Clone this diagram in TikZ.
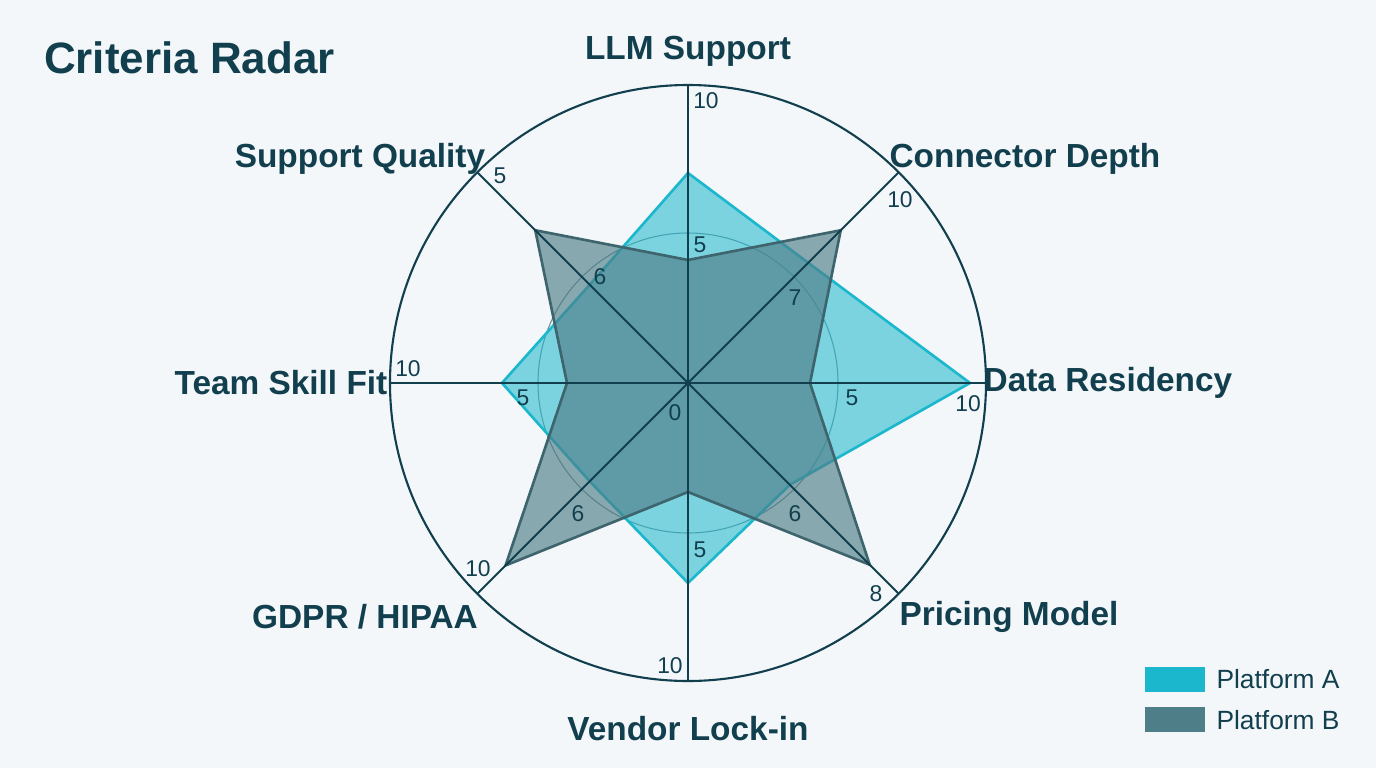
\documentclass[tikz,border=0pt]{standalone}
\usepackage{fontspec}
\setmainfont{Liberation Sans}
\usetikzlibrary{positioning}
\definecolor{bgcol}{HTML}{F3F7FA}
\definecolor{ink}{HTML}{123F4E}
\definecolor{platA}{HTML}{1BB7CC}
\definecolor{platB}{HTML}{4E7E88}
\tikzset{
  axislabel/.style={font=\bfseries\fontsize{19}{22}\selectfont, text=ink},
  tick/.style={font=\fontsize{13}{15}\selectfont, text=ink},
  grid/.style={ink, line width=1.2pt},
}
\begin{document}
\begin{tikzpicture}[x=0.02cm,y=0.02cm]
  \fill[bgcol] (-688,-385) rectangle (688,383);
  \useasboundingbox (-688,-385) rectangle (688,383);
  % title
  \node[anchor=west, font=\bfseries\fontsize{25}{30}\selectfont, text=ink] (title) at (-650,325) {Criteria Radar};
  % rings
  \coordinate (o) at (0,0);
  \draw[grid] (o) circle (298);
  \draw[ink!60, line width=0.6pt] (o) circle (150);
  % platform A
  \fill[platA, fill opacity=0.55, draw=platA, draw opacity=1, line width=1.5pt]
    (90:210) -- (45:170) -- (0:282) -- (-45:144) -- (-90:200) -- (-135:139) -- (180:186) -- (135:139) -- cycle;
  % platform B
  \fill[platB, fill opacity=0.65, draw=platB!80!black, draw opacity=1, line width=1.5pt]
    (90:123) -- (45:216) -- (0:122) -- (-45:257) -- (-90:109) -- (-135:258) -- (180:121) -- (135:216) -- cycle;
  % spokes
  \foreach \a in {0,45,...,315}
    \draw[grid] (o) -- (\a:298);
  % axis labels
  \node[axislabel] (llm) at (0,332) {LLM Support};
  \node[axislabel] (conn) at (337,224) {Connector Depth};
  \node[axislabel] (resid) at (420,0) {Data Residency};
  \node[axislabel] (price) at (321,-234) {Pricing Model};
  \node[axislabel] (lock) at (0,-346) {Vendor Lock-in};
  \node[axislabel] (gdpr) at (-323,-234) {GDPR / HIPAA};
  \node[axislabel] (team) at (-407,0) {Team Skill Fit};
  \node[axislabel] (supp) at (-328,224) {Support Quality};
  % ticks
  \node[tick] (t1) at (18,282) {10};
  \node[tick] (t2) at (12,138) {5};
  \node[tick] (t3) at (212,183) {10};
  \node[tick] (t4) at (107,85) {7};
  \node[tick] (t5) at (164,-15) {5};
  \node[tick] (t6) at (280,-21) {10};
  \node[tick] (t7) at (107,-131) {6};
  \node[tick] (t8) at (188,-211) {8};
  \node[tick] (t9) at (12,-167) {5};
  \node[tick] (t10) at (-18,-283) {10};
  \node[tick] (t11) at (-110,-131) {6};
  \node[tick] (t12) at (-210,-186) {10};
  \node[tick] (t13) at (-280,14) {10};
  \node[tick] (t14) at (-165,-15) {5};
  \node[tick] (t15) at (-188,207) {5};
  \node[tick] (t16) at (-88,106) {6};
  \node[tick] (t17) at (-13,-30) {0};
  % legend
  \node[fill=platA, minimum width=1.2cm, minimum height=0.5cm, inner sep=0] (keyA) at (487,-296) {};
  \node[fill=platB, minimum width=1.2cm, minimum height=0.5cm, inner sep=0, below=0.3cm of keyA] (keyB) {};
  \node[right=0.1cm of keyA, font=\fontsize{15}{18}\selectfont, text=ink] (labA) {Platform A};
  \node[right=0.1cm of keyB, font=\fontsize{15}{18}\selectfont, text=ink] (labB) {Platform B};
\end{tikzpicture}
\end{document}
